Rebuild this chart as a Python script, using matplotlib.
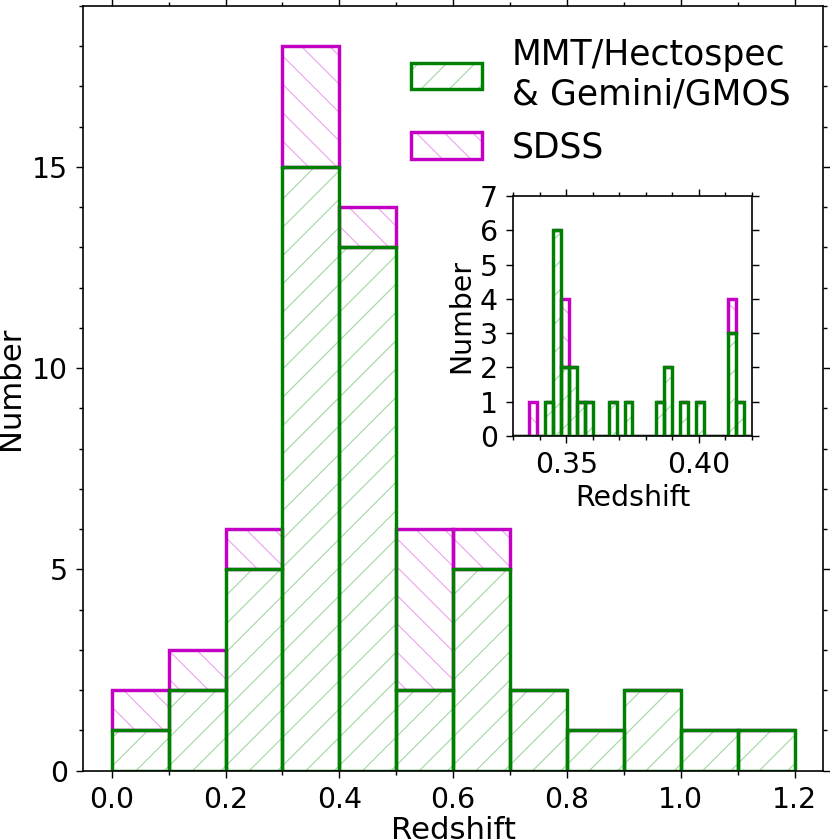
import matplotlib
matplotlib.use("Agg")
import matplotlib.pyplot as plt
import numpy as np
from matplotlib.legend_handler import HandlerTuple
from matplotlib.patches import Patch
from matplotlib.ticker import MultipleLocator, FormatStrFormatter

# main histogram: redshift bins of 0.1
main_edges = np.linspace(0.0, 1.2, 13)
main_spec = [1, 2, 5, 15, 13, 2, 5, 2, 1, 2, 1, 1]   # MMT/Hectospec & Gemini/GMOS
main_sdss = [1, 1, 1, 3, 1, 4, 1, 0, 0, 0, 0, 0]     # SDSS, stacked on top

# inset: zoom on the cluster redshift range
inset_edges = np.linspace(0.33, 0.42, 31)
inset_spec = [0, 0, 0, 0, 1, 6, 2, 2, 1, 1, 0, 0, 1, 0, 1,
              0, 0, 0, 1, 2, 0, 1, 0, 1, 0, 0, 0, 3, 1, 0]
inset_sdss = [0, 0, 1, 0, 0, 0, 2, 0, 0, 0, 0, 0, 0, 0, 0,
              0, 0, 0, 0, 0, 0, 0, 0, 0, 0, 0, 0, 1, 0, 0]

GREEN = "#008000"
MAGENTA = "#c400c4"
GREEN_HATCH = (0.0, 0.55, 0.0, 0.35)
MAGENTA_HATCH = (0.8, 0.0, 0.8, 0.35)
LW = 1.45

plt.rcParams["hatch.linewidth"] = 0.5

DPI = 170
fig = plt.figure(figsize=(830 / DPI, 840 / DPI), dpi=DPI)


def stacked(ax, edges, spec, sdss):
    left = edges[:-1]
    width = np.diff(edges)
    spec = np.array(spec)
    sdss = np.array(sdss)
    # sdss first so the green outline sits on top
    ax.bar(left, sdss, width=width, bottom=spec, align="edge",
           facecolor="none", edgecolor=MAGENTA_HATCH, linewidth=0, hatch="\\\\")
    ax.bar(left, sdss, width=width, bottom=spec, align="edge",
           fill=False, edgecolor=MAGENTA, linewidth=LW)
    ax.bar(left, spec, width=width, align="edge",
           facecolor="none", edgecolor=GREEN_HATCH, linewidth=0, hatch="//")
    ax.bar(left, spec, width=width, align="edge",
           fill=False, edgecolor=GREEN, linewidth=LW)


def style(ax):
    for s in ax.spines.values():
        s.set_linewidth(0.7)
    ax.tick_params(which="both", direction="out", top=True, right=True,
                   labelsize=12, width=0.6)
    ax.tick_params(which="major", length=3)
    ax.tick_params(which="minor", length=1.5)


ax = fig.add_axes([0.1004, 0.0825, 0.8912, 0.9104])
stacked(ax, main_edges, main_spec, main_sdss)
ax.set_xlim(-0.05, 1.25)
ax.set_ylim(0, 19)
ax.xaxis.set_major_locator(MultipleLocator(0.2))
ax.xaxis.set_minor_locator(MultipleLocator(0.1))
ax.yaxis.set_major_locator(MultipleLocator(5))
ax.yaxis.set_minor_locator(MultipleLocator(1))
ax.set_xlabel("Redshift", fontsize=13, labelpad=1)
ax.set_ylabel("Number", fontsize=13, labelpad=3)
style(ax)

handles = [
    (Patch(facecolor="none", edgecolor=GREEN_HATCH, linewidth=0, hatch="//"),
     Patch(fill=False, edgecolor=GREEN, linewidth=LW)),
    (Patch(facecolor="none", edgecolor=MAGENTA_HATCH, linewidth=0, hatch="\\\\"),
     Patch(fill=False, edgecolor=MAGENTA, linewidth=LW)),
]
ax.legend(handles, ["MMT/Hectospec\n& Gemini/GMOS", "SDSS"],
          handler_map={tuple: HandlerTuple(ndivide=1, pad=0)},
          loc="upper right", bbox_to_anchor=(0.998, 0.999),
          frameon=False, fontsize=14.7, handlelength=2.05, handleheight=0.8,
          handletextpad=0.85, labelspacing=0.55)

axin = fig.add_axes([0.6184, 0.481, 0.2872, 0.2857])
stacked(axin, inset_edges, inset_spec, inset_sdss)
axin.set_xlim(0.33, 0.42)
axin.set_ylim(0, 7)
axin.xaxis.set_major_locator(MultipleLocator(0.05))
axin.xaxis.set_minor_locator(MultipleLocator(0.01))
axin.yaxis.set_major_locator(MultipleLocator(1))
axin.xaxis.set_major_formatter(FormatStrFormatter("%.2f"))
axin.set_xlabel("Redshift", fontsize=12, labelpad=2)
axin.set_ylabel("Number", fontsize=12, labelpad=2)
style(axin)

fig.savefig("out.png", dpi=DPI)
plt.close(fig)
